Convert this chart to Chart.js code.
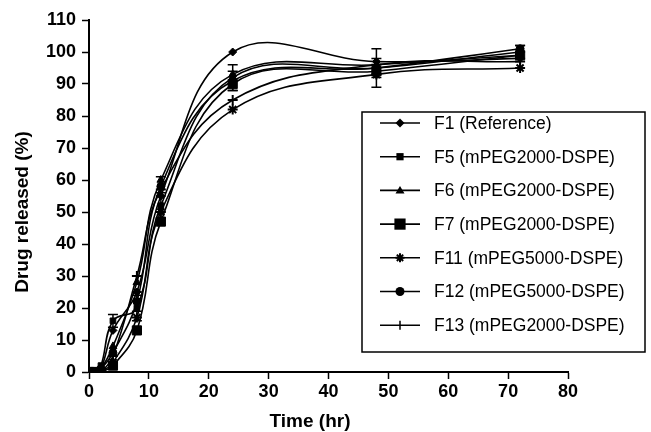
<!DOCTYPE html>
<html>
<head>
<meta charset="utf-8">
<script src="https://cdn.jsdelivr.net/npm/chart.js@4/dist/chart.umd.min.js"></script>
<style>
  html, body { margin: 0; padding: 0; background: #fff; }
  #wrap { width: 651px; height: 432px; position: relative; }
</style>
</head>
<body>
<div id="wrap"><canvas id="chart" width="651" height="432"></canvas></div>
<script>
// sampling times (hr)
const times = [0, 1, 2, 4, 8, 12, 24, 48, 72];
const xTicks = [0, 10, 20, 30, 40, 50, 60, 70, 80];
const yTicks = [0, 10, 20, 30, 40, 50, 60, 70, 80, 90, 100, 110];

// drug released (%) for each formulation
const f1  = [0, 0, 1, 13, 25, 55, 100, 97, 98];
const f5  = [0, 0, 2, 16, 20, 52, 92, 95, 100];
const f6  = [0, 0, 1, 8, 28, 60, 93, 96, 99];
const f7  = [0, 0, 0, 2, 13, 47, 90, 94, 99];
const f11 = [0, 0, 0, 3, 17, 50, 82, 93, 95];
const f12 = [0, 0, 1, 6, 22, 58, 91, 95, 101];
const f13 = [0, 0, 0, 5, 30, 57, 85, 96, 97];

// standard deviations (only some visible in the figure)
const f5Err  = [0, 0, 0, 2, 4, 4, 4, 6, 2];
const f12Err = [0, 0, 0, 0, 3, 3, 3, 3, 1];

const labels = [
  'F1 (Reference)',
  'F5 (mPEG2000-DSPE)',
  'F6 (mPEG2000-DSPE)',
  'F7 (mPEG2000-DSPE)',
  'F11 (mPEG5000-DSPE)',
  'F12 (mPEG5000-DSPE)',
  'F13 (mPEG2000-DSPE)'
];
const series = [f1, f5, f6, f7, f11, f12, f13];
const styles = ['rectRot', 'rect', 'triangle', 'rect', 'star', 'circle', 'cross'];
const radii = [4, 4, 4.5, 6.5, 5, 4, 5];
const errors = [null, f5Err, null, null, null, f12Err, null];

function toPoints(vals) {
  return times.map((t, i) => ({ x: t, y: vals[i] }));
}

const datasets = series.map((vals, i) => ({
  label: labels[i],
  data: toPoints(vals),
  errors: errors[i],
  borderColor: '#000',
  backgroundColor: '#000',
  borderWidth: 1.6,
  pointStyle: styles[i],
  pointRadius: radii[i],
  pointBorderWidth: styles[i] === 'star' || styles[i] === 'cross' ? 2 : 1,
  tension: 0.4,
  fill: false
}));

// error bars drawn through the scales
const errorBars = {
  id: 'errorBars',
  afterDatasetsDraw(chart) {
    const ctx = chart.ctx;
    const xs = chart.scales.x, ys = chart.scales.y;
    ctx.save();
    ctx.strokeStyle = '#000';
    ctx.lineWidth = 1.5;
    chart.data.datasets.forEach(ds => {
      if (!ds.errors) return;
      ds.data.forEach((p, i) => {
        const e = ds.errors[i];
        if (!e) return;
        const px = xs.getPixelForValue(p.x);
        const top = ys.getPixelForValue(p.y + e);
        const bot = ys.getPixelForValue(p.y - e);
        ctx.beginPath();
        ctx.moveTo(px, top); ctx.lineTo(px, bot);
        ctx.moveTo(px - 5, top); ctx.lineTo(px + 5, top);
        ctx.moveTo(px - 5, bot); ctx.lineTo(px + 5, bot);
        ctx.stroke();
      });
    });
    ctx.restore();
  }
};

function drawMarker(ctx, style, r, x, y) {
  ctx.beginPath();
  if (style === 'rectRot') {
    ctx.moveTo(x, y - r); ctx.lineTo(x + r, y); ctx.lineTo(x, y + r); ctx.lineTo(x - r, y); ctx.closePath(); ctx.fill();
  } else if (style === 'rect') {
    ctx.fillRect(x - r * 0.8, y - r * 0.8, r * 1.6, r * 1.6);
  } else if (style === 'triangle') {
    ctx.moveTo(x, y - r); ctx.lineTo(x + r, y + r * 0.7); ctx.lineTo(x - r, y + r * 0.7); ctx.closePath(); ctx.fill();
  } else if (style === 'circle') {
    ctx.arc(x, y, r, 0, Math.PI * 2); ctx.fill();
  } else if (style === 'star') {
    ctx.lineWidth = 2;
    ctx.moveTo(x - r, y); ctx.lineTo(x + r, y);
    ctx.moveTo(x - r * 0.7, y - r * 0.7); ctx.lineTo(x + r * 0.7, y + r * 0.7);
    ctx.moveTo(x - r * 0.7, y + r * 0.7); ctx.lineTo(x + r * 0.7, y - r * 0.7);
    ctx.moveTo(x, y - r); ctx.lineTo(x, y + r);
    ctx.stroke();
  } else if (style === 'cross') {
    ctx.lineWidth = 1.5;
    ctx.moveTo(x, y - r); ctx.lineTo(x, y + r);
    ctx.stroke();
  }
}

// boxed legend inside the plot, like the original figure
const boxLegend = {
  id: 'boxLegend',
  afterDraw(chart) {
    const ctx = chart.ctx;
    const bx = 362, by = 112, bw = 283, bh = 240;
    ctx.save();
    ctx.fillStyle = '#fff';
    ctx.fillRect(bx, by, bw, bh);
    ctx.strokeStyle = '#000';
    ctx.lineWidth = 1.5;
    ctx.strokeRect(bx, by, bw, bh);
    ctx.font = '17.5px "Liberation Sans", Arial, sans-serif';
    ctx.textBaseline = 'middle';
    chart.data.datasets.forEach((ds, i) => {
      const y = 123 + i * 33.7;
      ctx.strokeStyle = '#000';
      ctx.fillStyle = '#000';
      ctx.lineWidth = 1.6;
      ctx.beginPath();
      ctx.moveTo(380, y); ctx.lineTo(420, y);
      ctx.stroke();
      drawMarker(ctx, ds.pointStyle, ds.pointStyle === 'rect' && i === 3 ? 7 : 4.5, 400, y);
      ctx.fillStyle = '#000';
      ctx.fillText(ds.label, 434, y + 1);
    });
    ctx.restore();
  }
};

// axis titles, placed where the original has them
const axisTitles = {
  id: 'axisTitles',
  afterDraw(chart) {
    const ctx = chart.ctx;
    ctx.save();
    ctx.fillStyle = '#000';
    ctx.textAlign = 'center';
    ctx.textBaseline = 'middle';
    ctx.font = 'bold 19px "Liberation Sans", Arial, sans-serif';
    ctx.fillText('Time (hr)', 310, 422);
    ctx.translate(23, 212);
    ctx.rotate(-Math.PI / 2);
    ctx.fillText('Drug released (%)', 0, 0);
    ctx.restore();
  }
};

const boldFont = { family: '"Liberation Sans", Arial, sans-serif', size: 18, weight: 'bold' };

new Chart(document.getElementById('chart'), {
  type: 'line',
  data: { datasets: datasets },
  plugins: [errorBars, boxLegend, axisTitles],
  options: {
    responsive: false,
    animation: false,
    layout: { padding: { left: 6, right: 83, top: 20, bottom: 0 } },
    plugins: {
      legend: { display: false },
      tooltip: { enabled: false }
    },
    scales: {
      x: {
        type: 'linear',
        min: 0, max: 80,
        afterBuildTicks(scale) { scale.ticks = xTicks.map(v => ({ value: v })); },
        grid: { drawOnChartArea: false, tickLength: 7, color: '#000', tickWidth: 1.5 },
        border: { color: '#000', width: 2 },
        ticks: { color: '#000', font: boldFont, padding: 2 },
        afterFit(scale) { scale.height = 60; }
      },
      y: {
        min: 0, max: 110,
        afterBuildTicks(scale) { scale.ticks = yTicks.map(v => ({ value: v })); },
        grid: { drawOnChartArea: false, tickLength: 7, color: '#000', tickWidth: 1.5 },
        border: { color: '#000', width: 2 },
        ticks: { color: '#000', font: boldFont, padding: 6 },
        afterFit(scale) { scale.width = 83; }
      }
    }
  }
});
</script>
</body>
</html>
